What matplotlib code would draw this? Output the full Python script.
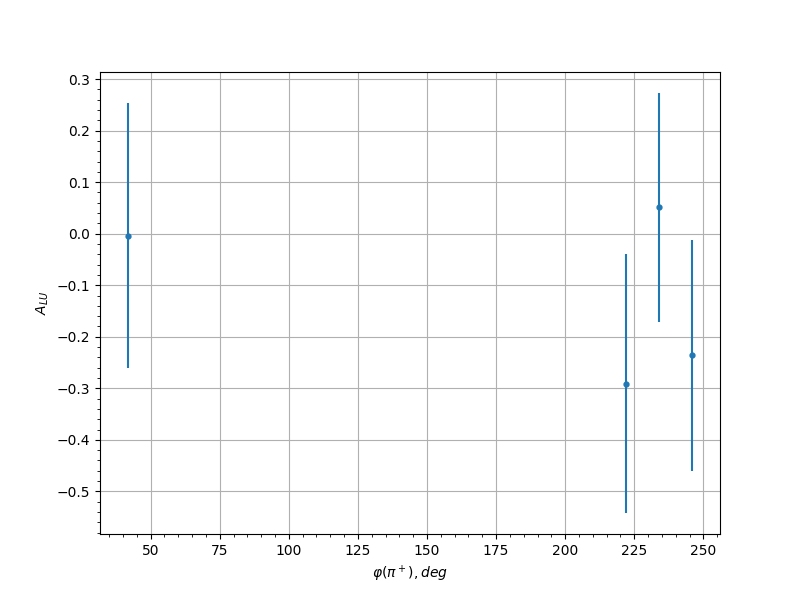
import matplotlib
matplotlib.use('Agg')
from matplotlib import pyplot as plt

# azimuthal angle bins and asymmetry values
phi = [41.9, 222.0, 233.9, 245.8]
a_lu = [-0.004, -0.291, 0.051, -0.236]
a_lu_err = [0.257, 0.251, 0.222, 0.224]

fig, ax = plt.subplots(figsize=(8, 6), dpi=100)
ax.errorbar(phi, a_lu, yerr=a_lu_err, fmt='o', markersize=3.5, color='tab:blue')
ax.minorticks_on()
ax.grid(True, which='major')
ax.set_xlabel(r'$\varphi(\pi^+), deg$')
ax.set_ylabel(r'$A_{LU}$')
fig.savefig('out.png')
